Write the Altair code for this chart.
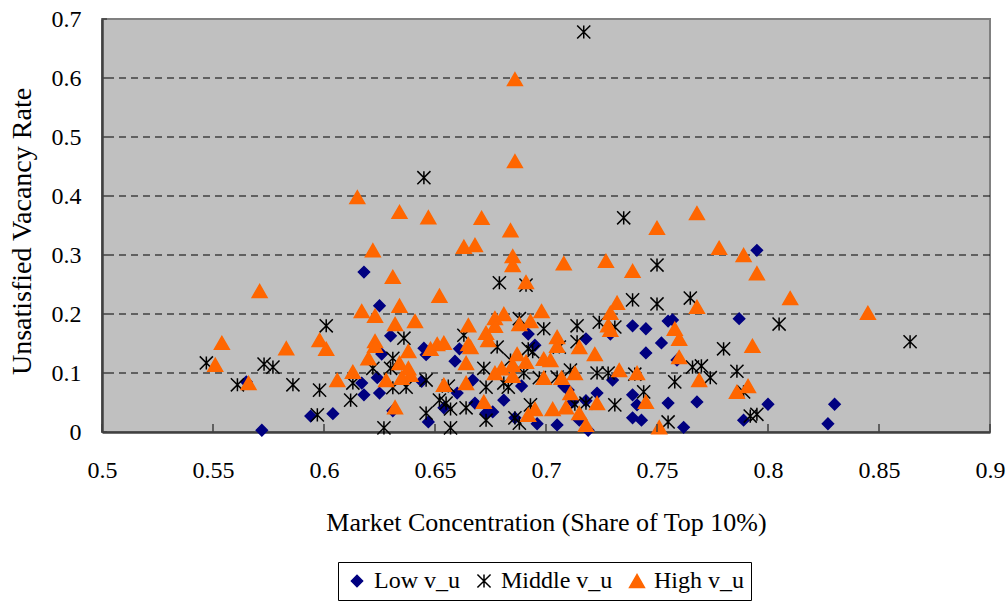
import altair as alt
import pandas as pd

# ---- data -------------------------------------------------------------
series_names = ["Low v_u", "Middle v_u", "High v_u"]

low_x = [0.572, 0.594, 0.604, 0.565, 0.618, 0.625, 0.630, 0.626, 0.645, 0.646,
         0.661, 0.659, 0.624, 0.617, 0.618, 0.625, 0.644, 0.667, 0.660, 0.668,
         0.654, 0.631, 0.647, 0.673, 0.692, 0.695, 0.718, 0.739, 0.745, 0.752,
         0.755, 0.729, 0.730, 0.689, 0.681, 0.676, 0.708, 0.710, 0.723, 0.718,
         0.739, 0.741, 0.755, 0.712, 0.715, 0.739, 0.743, 0.705, 0.696, 0.686,
         0.745, 0.759, 0.719, 0.795, 0.757, 0.787, 0.768, 0.800, 0.830, 0.762,
         0.789, 0.827]
low_y = [0.003, 0.027, 0.031, 0.085, 0.271, 0.214, 0.163, 0.132, 0.142, 0.131,
         0.141, 0.120, 0.092, 0.083, 0.063, 0.066, 0.086, 0.088, 0.066, 0.049,
         0.041, 0.036, 0.017, 0.032, 0.166, 0.147, 0.158, 0.180, 0.175, 0.151,
         0.188, 0.166, 0.088, 0.078, 0.054, 0.034, 0.078, 0.071, 0.066, 0.053,
         0.063, 0.046, 0.049, 0.051, 0.020, 0.024, 0.020, 0.012, 0.014, 0.024,
         0.134, 0.122, 0.003, 0.308, 0.190, 0.192, 0.051, 0.047, 0.047, 0.008,
         0.020, 0.014]

mid_x = [0.547, 0.573, 0.577, 0.561, 0.586, 0.717, 0.735, 0.645, 0.601, 0.636,
         0.663, 0.631, 0.622, 0.630, 0.672, 0.598, 0.613, 0.612, 0.631, 0.637,
         0.646, 0.656, 0.652, 0.655, 0.657, 0.664, 0.673, 0.597, 0.646, 0.627,
         0.657, 0.673, 0.679, 0.691, 0.750, 0.739, 0.750, 0.688, 0.699, 0.714,
         0.724, 0.731, 0.678, 0.692, 0.694, 0.706, 0.714, 0.684, 0.690, 0.697,
         0.705, 0.711, 0.723, 0.728, 0.740, 0.758, 0.681, 0.683, 0.744, 0.693,
         0.713, 0.718, 0.731, 0.686, 0.688, 0.755, 0.765, 0.805, 0.780, 0.766,
         0.770, 0.774, 0.786, 0.789, 0.792, 0.795, 0.864]
mid_y = [0.117, 0.115, 0.110, 0.080, 0.080, 0.678, 0.363, 0.431, 0.180, 0.159,
         0.164, 0.125, 0.108, 0.108, 0.108, 0.071, 0.083, 0.054, 0.075, 0.076,
         0.088, 0.078, 0.054, 0.049, 0.039, 0.041, 0.076, 0.029, 0.032, 0.007,
         0.007, 0.020, 0.253, 0.249, 0.283, 0.224, 0.217, 0.192, 0.175, 0.180,
         0.186, 0.178, 0.144, 0.141, 0.136, 0.144, 0.153, 0.122, 0.100, 0.092,
         0.093, 0.105, 0.100, 0.100, 0.098, 0.085, 0.083, 0.076, 0.068, 0.046,
         0.047, 0.049, 0.046, 0.024, 0.015, 0.017, 0.227, 0.183, 0.141, 0.110,
         0.112, 0.092, 0.103, 0.068, 0.027, 0.030, 0.153]

high_x = [0.571, 0.554, 0.551, 0.583, 0.566, 0.686, 0.686, 0.615, 0.634, 0.647,
          0.671, 0.684, 0.622, 0.663, 0.668, 0.685, 0.685, 0.631, 0.652, 0.617,
          0.623, 0.634, 0.641, 0.632, 0.598, 0.601, 0.623, 0.623, 0.620, 0.638,
          0.634, 0.638, 0.639, 0.648, 0.651, 0.654, 0.665, 0.665, 0.666, 0.664,
          0.673, 0.613, 0.606, 0.628, 0.635, 0.654, 0.664, 0.672, 0.632, 0.708,
          0.727, 0.739, 0.691, 0.732, 0.729, 0.728, 0.729, 0.758, 0.760, 0.698,
          0.681, 0.677, 0.677, 0.688, 0.693, 0.674, 0.705, 0.705, 0.715, 0.722,
          0.687, 0.691, 0.685, 0.699, 0.702, 0.680, 0.677, 0.685, 0.699, 0.707,
          0.713, 0.733, 0.741, 0.711, 0.695, 0.703, 0.709, 0.715, 0.723, 0.745,
          0.692, 0.718, 0.751, 0.750, 0.768, 0.778, 0.789, 0.795, 0.810, 0.845,
          0.768, 0.760, 0.793, 0.769, 0.786, 0.791]
high_y = [0.239, 0.151, 0.114, 0.142, 0.083, 0.598, 0.459, 0.398, 0.373, 0.364,
          0.363, 0.342, 0.308, 0.314, 0.317, 0.298, 0.283, 0.263, 0.231, 0.205,
          0.197, 0.214, 0.188, 0.183, 0.156, 0.141, 0.154, 0.146, 0.125, 0.137,
          0.117, 0.108, 0.097, 0.141, 0.149, 0.151, 0.181, 0.149, 0.144, 0.117,
          0.168, 0.102, 0.088, 0.088, 0.092, 0.080, 0.083, 0.051, 0.042, 0.286,
          0.290, 0.273, 0.254, 0.219, 0.202, 0.181, 0.173, 0.175, 0.127, 0.205,
          0.200, 0.193, 0.180, 0.183, 0.188, 0.156, 0.161, 0.146, 0.144, 0.132,
          0.132, 0.119, 0.114, 0.124, 0.122, 0.108, 0.100, 0.095, 0.092, 0.092,
          0.100, 0.105, 0.100, 0.066, 0.039, 0.039, 0.042, 0.032, 0.049, 0.051,
          0.029, 0.012, 0.008, 0.346, 0.371, 0.312, 0.300, 0.269, 0.227, 0.202,
          0.212, 0.158, 0.146, 0.088, 0.068, 0.078]

x_ticks = [0.5, 0.55, 0.6, 0.65, 0.7, 0.75, 0.8, 0.85, 0.9]
y_ticks = [0, 0.1, 0.2, 0.3, 0.4, 0.5, 0.6, 0.7]
grid_values = [0.1, 0.2, 0.3, 0.4, 0.5, 0.6]

rows = []
for name, xs, ys in zip(series_names, [low_x, mid_x, high_x], [low_y, mid_y, high_y]):
    rows += [{"series": name, "share": x, "rate": y} for x, y in zip(xs, ys)]
df = pd.DataFrame(rows)

# ---- styling ----------------------------------------------------------
W, H = 888, 413
FONT = "Liberation Serif"
AXIS_DARK = "#404040"
ASTERISK = "M-1,-1L1,1M-1,1L1,-1M0,-1L0,1"
colors = ["#000080", "#000000", "#FF6600"]

x_scale = alt.Scale(domain=[0.5, 0.9], nice=False, zero=False)
y_scale = alt.Scale(domain=[0, 0.7], nice=False, zero=False)

x_axis = alt.Axis(
    values=x_ticks, format=".2~f", grid=False, ticks=False, tickSize=0,
    labelPadding=26, labelFont=FONT, labelFontSize=24, labelColor="black",
    labelFlush=False, domainColor=AXIS_DARK, domainWidth=2.5,
    title="Market Concentration (Share of Top 10%)", titleFont=FONT,
    titleFontSize=26, titleFontWeight="normal", titleColor="black",
    titleY=98, titleBaseline="alphabetic",
)
y_axis = alt.Axis(
    values=y_ticks, format=".1~f", grid=False, ticks=False, tickSize=0,
    labelPadding=21, labelFont=FONT, labelFontSize=24, labelColor="black",
    labelFlush=False, domainColor=AXIS_DARK, domainWidth=2.5,
    title="Unsatisfied Vacancy Rate", titleFont=FONT, titleFontSize=28,
    titleFontWeight="normal", titleColor="black", titleAngle=270,
    titleX=-80, titleY=212, titleBaseline="middle", titleAlign="center",
)

grid = alt.Chart(pd.DataFrame({"rate": grid_values})).mark_rule(
    color="black", strokeWidth=1, strokeDash=[7, 5]
).encode(y=alt.Y("rate:Q", scale=y_scale, axis=y_axis))

points = alt.Chart(df).mark_point(filled=True, opacity=1, strokeWidth=1.5).encode(
    x=alt.X("share:Q", scale=x_scale, axis=x_axis),
    y=alt.Y("rate:Q", scale=y_scale, axis=y_axis),
    fill=alt.Fill(
        "series:N", title=None,
        scale=alt.Scale(domain=series_names, range=colors),
        legend=alt.Legend(
            orient="none", legendX=236, legendY=543, direction="horizontal",
            strokeColor="black", fillColor="white", padding=7,
            labelFont=FONT, labelFontSize=24, labelColor="black",
            labelOffset=5, columnPadding=12, symbolStrokeWidth=1.5,
        ),
    ),
    stroke=alt.Stroke("series:N", title=None,
                      scale=alt.Scale(domain=series_names, range=colors)),
    shape=alt.Shape("series:N", title=None,
                    scale=alt.Scale(domain=series_names,
                                    range=["diamond", ASTERISK, "triangle-up"])),
    size=alt.Size("series:N", title=None,
                  scale=alt.Scale(domain=series_names, range=[125, 220, 125])),
)

# tick marks drawn inward from the axes
xtick_marks = alt.Chart(pd.DataFrame({"share": x_ticks})).mark_rule(
    color=AXIS_DARK, strokeWidth=1.5
).encode(x=alt.X("share:Q", scale=x_scale, axis=x_axis),
         y=alt.value(H - 8), y2=alt.value(H))

ytick_marks = alt.Chart(pd.DataFrame({"rate": y_ticks})).mark_rule(
    color=AXIS_DARK, strokeWidth=1.5
).encode(y=alt.Y("rate:Q", scale=y_scale, axis=y_axis),
         x=alt.value(0), x2=alt.value(5))

chart = alt.layer(grid, points, xtick_marks, ytick_marks).properties(
    width=W,
    height=H,
    padding={"left": 102, "top": 19, "right": 16, "bottom": 171},
    autosize=alt.AutoSizeParams(type="none"),
    background="white",
).configure_view(fill="#C0C0C0", stroke="#808080", strokeWidth=2)

chart.save("out.html", embed_options={"renderer": "svg", "actions": False})
